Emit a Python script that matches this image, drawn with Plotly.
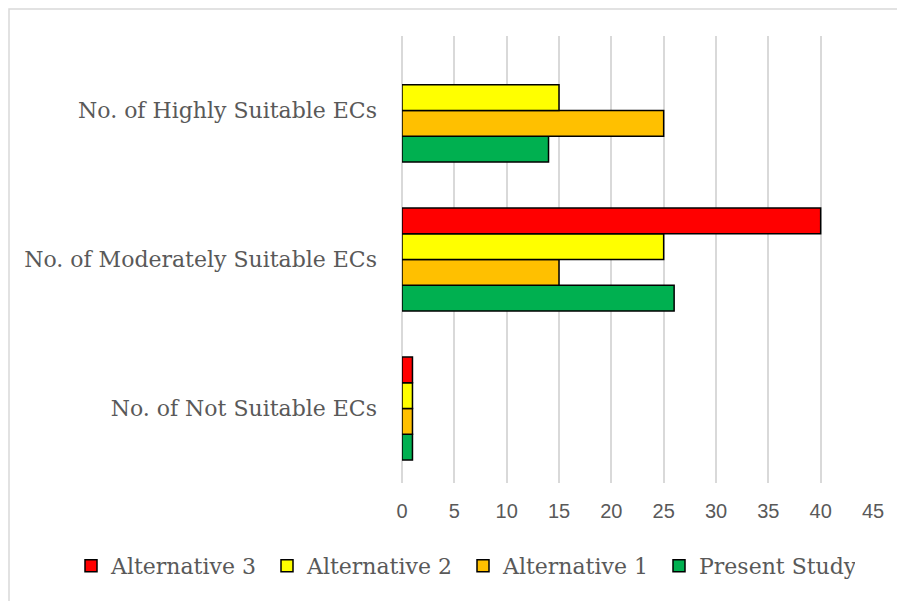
import plotly.graph_objects as go

# Suitability counts of energy corridors (ECs) per assessment
categories = [
    "No. of Highly Suitable ECs",
    "No. of Moderately Suitable ECs",
    "No. of Not Suitable ECs",
]
alternative_3 = [0, 40, 1]
alternative_2 = [15, 25, 1]
alternative_1 = [25, 15, 1]
present_study = [14, 26, 1]
x_ticks = [0, 5, 10, 15, 20, 25, 30, 35, 40, 45]

series = [
    ("Present Study", present_study, "#00B050"),
    ("Alternative 1", alternative_1, "#FFC000"),
    ("Alternative 2", alternative_2, "#FFFF00"),
    ("Alternative 3", alternative_3, "#FF0000"),
]

W, H = 897, 601
L, R, T, B = 402, 24, 36, 118
text_gray = "#595959"
grid_gray = "#d9d9d9"
serif = "DejaVu Serif, Liberation Serif, serif"

fig = go.Figure()
for name, values, color in series:
    fig.add_trace(go.Bar(
        y=categories,
        # zero counts leave an empty slot rather than an outlined sliver
        x=[v if v else None for v in values],
        name=name,
        orientation="h",
        marker=dict(color=color, line=dict(color="black", width=1.5)),
    ))

# pixel -> paper coordinate helpers
px_x = lambda p: (p - L) / (W - L - R)
px_y = lambda p: (H - B - p) / (H - T - B)

# light frame around the chart area
fig.add_shape(type="rect", xref="paper", yref="paper",
              x0=px_x(9), x1=px_x(960), y0=px_y(660), y1=px_y(9),
              line=dict(color=grid_gray, width=1.5), fillcolor="rgba(0,0,0,0)",
              layer="below")

fig.update_layout(
    width=W, height=H,
    margin=dict(l=L, r=R, t=T, b=B, autoexpand=False),
    paper_bgcolor="white", plot_bgcolor="white",
    barmode="group", bargap=0.31, bargroupgap=0,
    xaxis=dict(
        range=[0, 45], tickvals=x_ticks, showgrid=True,
        gridcolor=grid_gray, gridwidth=1.5,
        zeroline=True, zerolinecolor=grid_gray, zerolinewidth=1.5,
        showline=False, ticks="", ticklabelstandoff=14,
        tickfont=dict(family="Liberation Sans, Arial, sans-serif", size=20, color=text_gray),
        fixedrange=True,
    ),
    yaxis=dict(
        categoryorder="array", categoryarray=categories[::-1],
        showgrid=False, showline=False, ticks="", ticklabelstandoff=24,
        tickfont=dict(family=serif, size=22, color=text_gray),
    ),
    legend=dict(
        orientation="h", traceorder="reversed",
        xref="paper", yref="paper",
        x=px_x(71), xanchor="left", y=px_y(566), yanchor="middle",
        font=dict(family=serif, size=22, color=text_gray),
        itemwidth=30, entrywidth=151, entrywidthmode="pixels",
    ),
    showlegend=True,
)

fig.write_html("out.html")
